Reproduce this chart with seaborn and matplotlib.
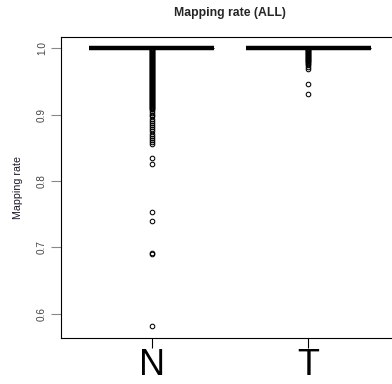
import pandas as pd
import numpy as np
import matplotlib.pyplot as plt
import seaborn as sns

# mapping rate per sample, everything below 1.0
groups = ["N", "T"]

n_full = 600   # samples of N sitting at 1.0
t_full = 150   # samples of T sitting at 1.0

n_low = [0.999, 0.998, 0.997, 0.996, 0.995, 0.994, 0.993, 0.992, 0.991, 0.990,
         0.989, 0.988, 0.987, 0.986, 0.985, 0.984, 0.983, 0.982, 0.981, 0.980,
         0.979, 0.978, 0.977, 0.976, 0.975, 0.974, 0.973, 0.972, 0.971, 0.970,
         0.969, 0.968, 0.967, 0.966, 0.965, 0.964, 0.963, 0.962, 0.961, 0.960,
         0.959, 0.958, 0.957, 0.956, 0.955, 0.954, 0.953, 0.952, 0.951, 0.950,
         0.949, 0.948, 0.947, 0.946, 0.945, 0.944, 0.943, 0.942, 0.941, 0.940,
         0.939, 0.938, 0.937, 0.936, 0.935, 0.934, 0.933, 0.932, 0.931, 0.930,
         0.929, 0.928, 0.927, 0.926, 0.925, 0.924, 0.923, 0.922, 0.921, 0.920,
         0.919, 0.918, 0.917, 0.916, 0.915, 0.914, 0.913, 0.912, 0.911, 0.910,
         0.909, 0.908,
         0.905, 0.903, 0.899, 0.897, 0.893, 0.890, 0.887, 0.884, 0.881, 0.878,
         0.875, 0.871, 0.868, 0.864, 0.861, 0.858, 0.855,
         0.834, 0.826, 0.753, 0.740, 0.691, 0.690, 0.582]

t_low = [0.999, 0.998, 0.997, 0.996, 0.995, 0.994, 0.993, 0.992, 0.991, 0.990,
         0.989, 0.988, 0.987, 0.986, 0.985, 0.984, 0.983, 0.982, 0.981, 0.980,
         0.979, 0.978, 0.976, 0.974, 0.971, 0.969, 0.946, 0.931]

y_ticks = [0.6, 0.7, 0.8, 0.9, 1.0]

rates = [1.0] * n_full + n_low + [1.0] * t_full + t_low
labels = ["N"] * (n_full + len(n_low)) + ["T"] * (t_full + len(t_low))
df = pd.DataFrame({"group": labels, "rate": rates})

sns.set_style("white")
plt.rcParams["font.family"] = ["Liberation Sans", "DejaVu Sans"]

fig = plt.figure(figsize=(3.92, 3.84), dpi=100)
ax = fig.add_axes([61 / 392, 46 / 384, 338 / 392, 301 / 384])

sns.boxplot(
    data=df, x="group", y="rate", order=groups, ax=ax,
    width=0.8, color="white", linecolor="black", linewidth=0.8,
    flierprops=dict(marker="o", markersize=3.3, markerfacecolor="none",
                    markeredgecolor="black", markeredgewidth=0.75),
    medianprops=dict(linewidth=3.2, color="black", solid_capstyle="butt"),
)

ax.set_xlim(-0.58, 1.58)
ax.set_ylim(0.5632, 1.0168)
ax.set_yticks(y_ticks)
ax.set_yticklabels([f"{v:.1f}" for v in y_ticks], rotation=90, va="center",
                   fontsize=7.2, color="#444444")
ax.set_xticks([0, 1])
ax.set_xticklabels(groups, fontsize=26, color="black")
ax.tick_params(axis="y", length=7, width=0.8, color="#888888", pad=3, left=True)
ax.tick_params(axis="x", length=7, width=0.8, color="black", pad=0.5, bottom=True)

ax.set_xlabel("")
ax.set_ylabel("Mapping rate", fontsize=7.7, color="#1a1a2a", labelpad=10)
ax.set_title("Mapping rate (ALL)", fontsize=8.8, fontweight="bold", pad=15)

for s in ax.spines.values():
    s.set_visible(True)
    s.set_color("black")
    s.set_linewidth(0.8)

fig.savefig("out.png", dpi=100)
